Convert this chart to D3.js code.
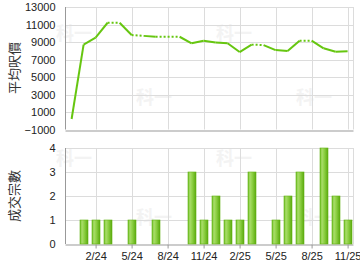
<!DOCTYPE html>
<html lang="zh-Hant">
<head>
  <meta charset="UTF-8">
  <style>
    body { margin: 0; background: #fff; }
    svg { display: block; font-family: "Liberation Sans", Arial, sans-serif; }
    .grid line { stroke: #dcdcdc; stroke-width: 1; }
    .axis path, .axis line { stroke: #999; }
    .axis text { fill: #222; font-size: 11px; }
    .title { fill: #333; font-size: 13px; font-family: "Noto Sans CJK TC", sans-serif; }
    .mark { fill: #f3f3f3; font-size: 18px; font-weight: bold; font-family: "Noto Sans CJK TC", sans-serif; }
    .price { fill: none; stroke: #66c610; stroke-width: 2; stroke-linejoin: round; }
    .price.gap { stroke-dasharray: 2,2; }
  </style>
  <script src="https://d3js.org/d3.v7.min.js"></script>
</head>
<body>
<svg id="chart"></svg>
<script>

// Dec 2023 .. Nov 2025, one entry per month
var months = ['12/23', '1/24', '2/24', '3/24', '4/24', '5/24', '6/24', '7/24', '8/24', '9/24', '10/24', '11/24',
              '12/24', '1/25', '2/25', '3/25', '4/25', '5/25', '6/25', '7/25', '8/25', '9/25', '10/25', '11/25'];
var prices = [200, 8700, 9500, 11200, 11200, 9800, 9700, 9600, 9600, 9600, 8850, 9150,
              8950, 8850, 7850, 8700, 8650, 8080, 7970, 9150, 9150, 8280, 7880, 7950];
var counts = [0, 1, 1, 1, 0, 1, 0, 1, 0, 0, 3, 1,
              2, 1, 1, 3, 0, 1, 2, 3, 0, 4, 2, 1];
var priceTicks = [-1000, 1000, 3000, 5000, 7000, 9000, 11000, 13000];
var countTicks = [0, 1, 2, 3, 4];
var xTickMonths = ['2/24', '5/24', '8/24', '11/24', '2/25', '5/25', '8/25', '11/25'];

var width = 360, height = 270;
var left = 65, right = 353;

var svg = d3.select('#chart').attr('width', width).attr('height', height);

var x = d3.scaleLinear()
          .domain([-0.55, months.length - 0.55])
          .range([left, right]);
var xTicks = xTickMonths.map(function(m) { return months.indexOf(m); });

var yPrice = d3.scaleLinear().domain([-1000, 13000]).range([129.5, 7]);
var yCount = d3.scaleLinear().domain([0, 4]).range([244, 148]);

// watermarks
var marks = [[56, 40], [136, 104], [216, 40], [296, 104], [56, 165], [136, 224], [216, 165], [296, 224]];
svg.append('g').selectAll('text')
    .data(marks)
    .enter().append('text')
    .attr('class', 'mark')
    .attr('x', function(d) { return d[0]; })
    .attr('y', function(d) { return d[1]; })
    .text('科一');

function panel(y, ticks, top, bottom, withLabels) {
  var g = svg.append('g');

  g.append('g')
      .attr('class', 'grid')
      .selectAll('line')
      .data(ticks.slice(1))
      .enter().append('line')
      .attr('x1', left).attr('x2', right)
      .attr('y1', function(d) { return Math.round(y(d)) + 0.5; })
      .attr('y2', function(d) { return Math.round(y(d)) + 0.5; });

  g.append('g')
      .attr('class', 'grid')
      .selectAll('line')
      .data(xTicks.concat([months.length - 0.55]))
      .enter().append('line')
      .attr('x1', function(d) { return Math.round(x(d)) + 0.5; })
      .attr('x2', function(d) { return Math.round(x(d)) + 0.5; })
      .attr('y1', top).attr('y2', bottom);

  var yAxis = d3.axisLeft(y)
      .tickValues(ticks)
      .tickFormat(d3.format('d'))
      .tickSize(0)
      .tickPadding(10);
  var ya = g.append('g')
      .attr('class', 'axis')
      .attr('transform', 'translate(' + (left + 0.5) + ',0)')
      .call(yAxis);
  ya.select('.domain').attr('d', 'M0,' + top + 'V' + bottom);

  var xAxis = d3.axisBottom(x)
      .tickValues(xTicks)
      .tickSize(withLabels ? 4 : 0)
      .tickPadding(4)
      .tickSizeOuter(0)
      .tickFormat(function(d) { return withLabels ? months[d] : ''; });
  g.append('g')
      .attr('class', 'axis')
      .attr('transform', 'translate(0,' + (Math.round(bottom) + 0.5) + ')')
      .call(xAxis);
  return g;
}

panel(yPrice, priceTicks, 7, 129.5, false);
panel(yCount, countTicks, 148, 244, true);

// titles
svg.append('text')
    .attr('class', 'title')
    .attr('transform', 'translate(19,68) rotate(-90)')
    .attr('text-anchor', 'middle')
    .text('平均呎價');
svg.append('text')
    .attr('class', 'title')
    .attr('transform', 'translate(19,196) rotate(-90)')
    .attr('text-anchor', 'middle')
    .text('成交宗數');

// price line, segment into a month with no deals is dotted
var line = d3.line()
    .x(function(i) { return x(i); })
    .y(function(i) { return yPrice(prices[i]); });

svg.append('g')
    .selectAll('path')
    .data(d3.range(1, months.length))
    .enter().append('path')
    .attr('class', function(i) { return counts[i] === 0 ? 'price gap' : 'price'; })
    .attr('d', function(i) { return line([i - 1, i]); });

// bars
var grad = svg.append('defs').append('linearGradient')
    .attr('id', 'barFill')
    .attr('x1', 0).attr('x2', 1).attr('y1', 0).attr('y2', 0);
grad.append('stop').attr('offset', '0%').attr('stop-color', '#6cbd22');
grad.append('stop').attr('offset', '25%').attr('stop-color', '#a9dd6a');
grad.append('stop').attr('offset', '55%').attr('stop-color', '#8ccf42');
grad.append('stop').attr('offset', '100%').attr('stop-color', '#5aa90e');

svg.append('g')
    .selectAll('rect')
    .data(d3.range(months.length).filter(function(i) { return counts[i] > 0; }))
    .enter().append('rect')
    .attr('x', function(i) { return Math.round(x(i) - 4); })
    .attr('width', 8)
    .attr('y', function(i) { return yCount(counts[i]); })
    .attr('height', function(i) { return yCount(0) - yCount(counts[i]); })
    .attr('fill', 'url(#barFill)')
    .attr('stroke', '#62b312')
    .attr('stroke-width', 0.6);

</script>
</body>
</html>
